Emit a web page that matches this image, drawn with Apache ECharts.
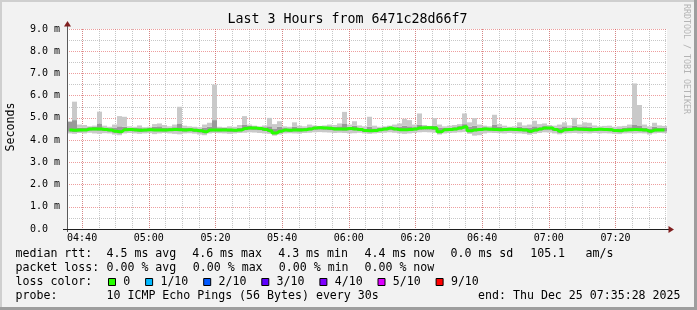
<!DOCTYPE html>
<html><head><meta charset="utf-8">
<script src="https://cdn.jsdelivr.net/npm/echarts@6/dist/echarts.min.js"></script>
<style>html,body{margin:0;padding:0;background:#f2f2f2}#c{width:697px;height:310px}</style>
</head><body><div id="c"></div>
<script>
// ---------------- DATA ----------------
// time axis: minutes since midnight, 3 hours ending 07:35:28, samples every 1.5 min
const START_MIN = 4 * 60 + 35 + 28 / 60;
const SPAN_MIN = 180;
const STEP_MIN = 1.5;

// median rtt (ms)
const medianRtt = [
  4.45,4.44,4.45,4.46,4.50,4.50, 4.50,4.48,4.45,4.40,4.38,
  4.47,4.48,4.46,4.44,4.45,4.47,4.46,
  4.46,4.45,4.47,4.48,4.47,4.46,4.47,4.44,4.42,4.38,
  4.45,4.46,4.45,4.46,4.45,4.44,4.46,
  4.52,4.55,4.54,4.52,
  4.48,4.42,4.32,4.40,
  4.45,4.44,4.46,4.45,4.47,4.50,
  4.55,4.56,4.55,4.53,4.50,
  4.50,4.50,4.52,4.50,4.48,
  4.43,4.42,4.43,
  4.47,4.50,4.54,
  4.50,4.47,4.47,4.48,4.50,
  4.55,4.56,4.56,4.54,
  4.38,
  4.47,4.48,4.50,4.55,4.60,
  4.42,4.46,
  4.48,4.50,4.49,4.48,4.47,4.48,4.49,4.48,4.47,4.45,
  4.40,
  4.45,4.50,4.55,4.55,
  4.48,4.40,
  4.47,4.48,4.50,4.49,4.48,4.47,4.48,4.49,4.48,4.47,
  4.43,4.42,
  4.46,4.47,4.48,4.47,4.45,
  4.40,
  4.45,4.46,4.46
];
// smoke: lowest ping (ms)
const smokeMin = [
  4.30,4.28,4.32,4.30,4.33,4.30,4.28,4.31,4.30,4.25,
  4.22,4.30,4.32,4.30,4.28,4.30,4.31,4.27,4.30,4.32,
  4.30,4.28,4.26,4.30,4.31,4.29,4.25,4.22,4.30,4.32,
  4.31,4.30,4.28,4.30,4.32,4.33,4.35,4.34,4.32,4.30,
  4.28,4.20,4.25,4.30,4.31,4.30,4.29,4.32,4.33,4.35,
  4.36,4.35,4.34,4.32,4.33,4.32,4.30,4.31,4.33,4.30,
  4.28,4.30,4.32,4.33,4.35,4.33,4.30,4.28,4.30,4.32,
  4.35,4.36,4.35,4.33,4.25,4.30,4.32,4.33,4.35,4.36,
  4.28,4.20,4.22,4.30,4.33,4.32,4.31,4.30,4.32,4.30,
  4.30,4.28,4.24,4.28,4.32,4.35,4.34,4.30,4.26,4.30,
  4.31,4.32,4.30,4.31,4.30,4.32,4.30,4.31,4.30,4.28,
  4.27,4.30,4.31,4.30,4.31,4.30,4.25,4.30,4.32,4.31
];
// smoke: highest ping (ms)
const smokeMax = [
  4.85,5.73,4.70,4.68,4.62,4.65,5.28,4.65,4.60,4.70,
  5.08,5.05,4.62,4.60,4.66,4.58,4.60,4.72,4.75,4.68,
  4.62,4.70,5.50,4.65,4.62,4.60,4.58,4.70,4.78,6.50,
  4.60,4.58,4.62,4.60,4.68,5.08,4.70,4.65,4.62,4.66,
  5.00,4.72,4.85,4.62,4.60,4.80,4.65,4.62,4.70,4.66,
  4.64,4.66,4.70,4.68,4.75,5.27,4.70,4.85,4.66,4.62,
  5.05,4.65,4.60,4.62,4.65,4.70,4.75,4.96,4.90,4.70,
  5.20,4.68,4.64,4.99,4.70,4.62,4.65,4.68,4.72,5.20,
  4.80,4.99,4.70,4.65,4.62,5.14,4.72,4.65,4.60,4.62,
  4.80,4.66,4.70,4.87,4.72,4.75,4.68,4.65,4.70,4.80,
  4.66,5.00,4.70,4.80,4.78,4.66,4.62,4.64,4.65,4.60,
  4.62,4.64,4.70,6.55,5.58,4.70,4.62,4.78,4.66,4.64
];
// smoke: inner (darker) band low / high (ms)
const coreLo = [
  4.38,4.36,4.38,4.40,4.42,4.43, 4.42,4.40,4.38,4.33,4.30,
  4.40,4.41,4.39,4.37,4.38,4.40,4.39,
  4.39,4.38,4.40,4.41,4.40,4.38,4.40,4.37,4.34,4.30,
  4.38,4.39,4.38,4.39,4.37,4.37,4.39,
  4.44,4.47,4.46,4.44,
  4.41,4.35,4.26,4.33,
  4.38,4.37,4.39,4.38,4.40,4.43,
  4.47,4.48,4.47,4.45,4.43,
  4.43,4.42,4.44,4.43,4.41,
  4.36,4.35,4.36,
  4.40,4.43,4.46,
  4.43,4.40,4.40,4.41,4.43,
  4.47,4.48,4.48,4.46,
  4.30,
  4.40,4.41,4.43,4.47,4.51,
  4.34,4.39,
  4.41,4.43,4.42,4.41,4.40,4.41,4.42,4.41,4.40,4.38,
  4.32,
  4.38,4.43,4.47,4.47,
  4.41,4.33,
  4.40,4.41,4.43,4.42,4.41,4.40,4.41,4.42,4.41,4.40,
  4.36,4.35,
  4.39,4.40,4.41,4.40,4.38,
  4.33,
  4.38,4.39,4.39
];
const coreHi = [
  4.82,4.90,4.56,4.55,4.58,4.60, 4.75,4.57,4.54,4.55,4.62,
  4.60,4.56,4.55,4.54,4.53,4.56,4.60,
  4.62,4.55,4.56,4.58,4.75,4.55,4.56,4.53,4.52,4.55,
  4.60,4.90,4.54,4.55,4.53,4.52,4.56,
  4.70,4.64,4.62,4.60,
  4.58,4.62,4.50,4.60,
  4.54,4.53,4.60,4.55,4.56,4.58,
  4.62,4.63,4.62,4.62,4.60,
  4.62,4.75,4.60,4.65,4.56,
  4.52,4.60,4.53,
  4.55,4.58,4.62,
  4.58,4.60,4.65,4.62,4.58,
  4.70,4.62,4.63,4.65,
  4.55,
  4.55,4.56,4.58,4.63,4.72,
  4.60,4.65,
  4.57,4.58,4.57,4.70,4.60,4.56,4.57,4.56,4.60,4.55,
  4.55,
  4.62,4.58,4.63,4.62,
  4.56,4.55,
  4.62,4.57,4.65,4.60,4.62,4.60,4.56,4.57,4.56,4.55,
  4.52,4.53,
  4.55,4.58,4.68,4.66,4.56,
  4.52,
  4.60,4.55,4.55
];
[medianRtt, smokeMin, smokeMax, coreLo, coreHi].forEach((a, k) => {
  if (a.length !== 120) throw new Error('array ' + k + ' has ' + a.length);
});

// y axis (ms)
const Y_MIN = 0, Y_MAX = 9, Y_STEP = 1;

// legend texts
const titleText = 'Last 3 Hours from 6471c28d66f7';
const rowLabels = ['median rtt:', 'packet loss:', 'loss color:', 'probe:'];
const rttStats = ['4.5 ms avg', '4.6 ms max', '4.3 ms min', '4.4 ms now', '0.0 ms sd', '105.1', 'am/s'];
const lossStats = ['0.00 % avg', '0.00 % max', '0.00 % min', '0.00 % now'];
const lossLabels = ['0', '1/10', '2/10', '3/10', '4/10', '5/10', '9/10'];
const lossColors = ['#26ff00', '#00b8ff', '#0059ff', '#5e00ff', '#7e00ff', '#dd00ff', '#ff0000'];
const probeText = '10 ICMP Echo Pings (56 Bytes) every 30s';
const endText = 'end: Thu Dec 25 07:35:28 2025';

// ---------------- LAYOUT ----------------
const W = 697, H = 310;
const G = { left: 67, top: 29, width: 600, height: 200 };
const MONO = '"DejaVu Sans Mono", monospace';
const LEG_FONT = '11.6px ' + MONO;
const ROW_Y = [254.3, 268.3, 282.3, 296.2];
const COL0 = 15.5;
const rttX = [106.5, 192.2, 278.2, 364.5, 450.5, 530.2, 585.5];
const lossX = [106.5, 192.8, 278.8, 364.5];
const CHAR_W = 7.0;

const fmtTime = v => {
  const s = Math.round(v * 60);
  const hh = Math.floor(s / 3600), mm = Math.floor((s % 3600) / 60), ss = s % 60;
  return [hh, mm, ss].map(n => String(n).padStart(2, '0')).join(':');
};
const fmtHM = v => fmtTime(v).slice(0, 5);
// one category per sample (centre time of each 1.5-minute step)
const categories = medianRtt.map((_, i) => fmtTime(START_MIN + STEP_MIN * (i + 0.5)));

const gridRed = 'rgba(222,79,79,0.55)';
const gridGrey = 'rgba(143,143,143,0.5)';

function txt(x, y, text, extra) {
  return {
    type: 'text', x: x, y: y, silent: true, z: 100,
    style: Object.assign({ text: text, font: LEG_FONT, fill: '#000',
      textAlign: 'left', textVerticalAlign: 'middle', align: 'left', verticalAlign: 'middle' }, extra || {})
  };
}

const graphics = [];
graphics.push({ type: 'rect', shape: { x: 0, y: 0, width: W, height: 2 }, style: { fill: '#cfcfcf' }, silent: true, z: 100 });
graphics.push({ type: 'rect', shape: { x: 0, y: 0, width: 2, height: H }, style: { fill: '#cfcfcf' }, silent: true, z: 100 });
graphics.push({ type: 'rect', shape: { x: W - 3, y: 0, width: 3, height: H }, style: { fill: '#9e9e9e' }, silent: true, z: 101 });
graphics.push({ type: 'rect', shape: { x: 0, y: H - 3, width: W, height: 3 }, style: { fill: '#9e9e9e' }, silent: true, z: 101 });
graphics.push(txt(347.5, 19.5, titleText, { font: '13.3px ' + MONO, textAlign: 'center', align: 'center' }));
graphics.push(Object.assign(txt(686.5, 4, 'RRDTOOL / TOBI OETIKER', { font: '8.3px ' + MONO, fill: '#b4b4b4' }), { rotation: -Math.PI / 2 }));
graphics.push(Object.assign(txt(11, 127, 'Seconds', { font: '11.6px ' + MONO, textAlign: 'center', align: 'center' }), { rotation: Math.PI / 2 }));
graphics.push({ type: 'line', shape: { x1: 67.5, y1: 24, x2: 67.5, y2: 232 }, style: { stroke: '#5a5a5a', lineWidth: 1 }, silent: true, z: 90 });
graphics.push({ type: 'line', shape: { x1: 63, y1: 229.5, x2: 670, y2: 229.5 }, style: { stroke: '#1f1f1f', lineWidth: 1 }, silent: true, z: 90 });
graphics.push({ type: 'polygon', shape: { points: [[64, 26.5], [71, 26.5], [67.5, 21]] }, style: { fill: '#801f1f' }, silent: true, z: 91 });
graphics.push({ type: 'polygon', shape: { points: [[668.5, 226], [668.5, 233], [674, 229.5]] }, style: { fill: '#801f1f' }, silent: true, z: 91 });
rowLabels.forEach((t, r) => graphics.push(txt(COL0, ROW_Y[r], t)));
rttStats.forEach((t, k) => graphics.push(txt(rttX[k], ROW_Y[0], t)));
lossStats.forEach((t, k) => graphics.push(txt(lossX[k], ROW_Y[1], t)));
let bx = 108;
lossLabels.forEach((t, k) => {
  graphics.push({ type: 'rect', shape: { x: bx + 0.5, y: 278.5, width: 7, height: 7 },
    style: { fill: lossColors[k], stroke: '#000', lineWidth: 1 }, silent: true, z: 100 });
  graphics.push(txt(bx + 15.3, ROW_Y[2], t));
  bx += 15.7 + t.length * CHAR_W + 14.4;
});
graphics.push(txt(106.5, ROW_Y[3], probeText));
graphics.push(txt(680.5, ROW_Y[3], endText, { textAlign: 'right', align: 'right' }));

const chart = echarts.init(document.getElementById('c'), null, { renderer: 'canvas', width: W, height: H });
const stackSeries = (name, vals, color) => ({
  name: name, type: 'bar', stack: 'smoke', xAxisIndex: 2, yAxisIndex: 0,
  barCategoryGap: '0%', data: vals, itemStyle: { color: color }, silent: true
});
chart.setOption({
  animation: false,
  backgroundColor: '#f2f2f2',
  textStyle: { fontFamily: MONO },
  grid: { left: G.left, top: G.top, width: G.width, height: G.height, containLabel: false,
    show: true, backgroundColor: '#ffffff', borderWidth: 0 },
  xAxis: [
    { // 5-minute minor grid
      type: 'value', min: START_MIN, max: START_MIN + SPAN_MIN, splitNumber: 36, position: 'bottom', z: 0,
      axisLine: { show: false }, axisTick: { show: false }, axisLabel: { show: false },
      splitLine: { show: true, showMinLine: false, showMaxLine: false, lineStyle: { color: gridGrey, type: [1, 1], width: 1 } }
    },
    { // 20-minute major grid + labels
      type: 'value', min: START_MIN, max: START_MIN + SPAN_MIN, splitNumber: 9, position: 'bottom', z: 1,
      axisLine: { show: false }, axisTick: { show: false },
      axisLabel: { show: true, formatter: fmtHM, showMinLabel: false, showMaxLabel: false, margin: 4,
        fontSize: 10, fontFamily: MONO, color: '#000' },
      splitLine: { show: true, showMinLine: false, showMaxLine: false, lineStyle: { color: gridRed, type: [1, 1], width: 1 } }
    },
    { // data samples
      type: 'category', data: categories, boundaryGap: true, position: 'bottom', show: false,
      axisLine: { show: false }, axisTick: { show: false }, axisLabel: { show: false }, splitLine: { show: false }
    }
  ],
  yAxis: [{
    type: 'value', min: Y_MIN, max: Y_MAX, interval: Y_STEP, z: 1,
    axisLine: { show: false }, axisTick: { show: false },
    axisLabel: { formatter: v => (v === 0 ? '0.0  ' : v.toFixed(1) + ' m'), fontSize: 10, fontFamily: MONO, color: '#000', margin: 7 },
    splitLine: { show: true, lineStyle: { color: gridRed, type: [1, 1], width: 1 } },
    minorTick: { show: false, splitNumber: 2 },
    minorSplitLine: { show: true, lineStyle: { color: gridGrey, type: [1, 1], width: 1 } }
  }],
  series: [
    stackSeries('base', smokeMin, 'rgba(0,0,0,0)'),
    stackSeries('smoke low', coreLo.map((v, i) => Math.max(0, v - smokeMin[i])), '#c9c9c9'),
    stackSeries('smoke core', coreHi.map((v, i) => Math.max(0, v - coreLo[i])), '#999999'),
    stackSeries('smoke high', smokeMax.map((v, i) => Math.max(0, v - coreHi[i])), '#c9c9c9'),
    { name: 'median rtt', type: 'line', xAxisIndex: 2, yAxisIndex: 0, step: 'middle', showSymbol: false,
      data: medianRtt, lineStyle: { color: lossColors[0], width: 3 }, silent: true, z: 5 }
  ],
  graphic: { elements: graphics }
});
</script>
</body></html>
